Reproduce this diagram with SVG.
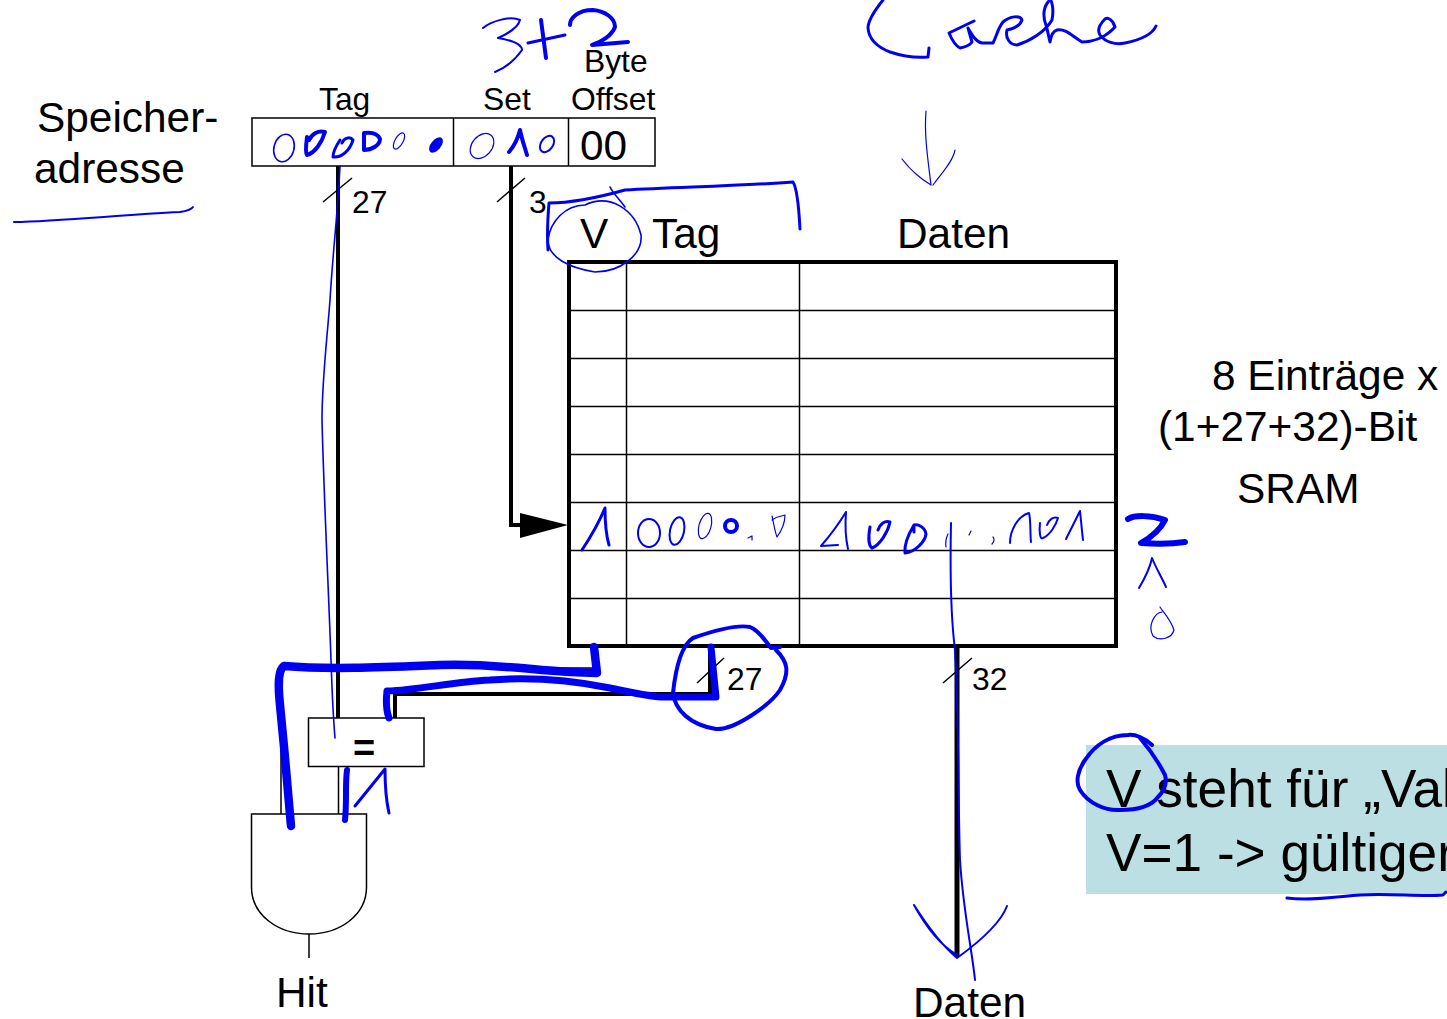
<svg xmlns="http://www.w3.org/2000/svg" width="1447" height="1019" viewBox="0 0 1447 1019">
<style>
text{font-family:"Liberation Sans",Arial,sans-serif;fill:#000}
.f42{font-size:42.400px}.f31{font-size:31.800px}.f52{font-size:53.200px}
.thin{fill:none;stroke:#000;stroke-width:1.5}
.box{fill:#fff;stroke:#000;stroke-width:1.5}
.thick{fill:none;stroke:#000;stroke-width:4}
.i{fill:none;stroke:#0000f0;stroke-linecap:round;stroke-linejoin:round}
.w1{stroke-width:1.2}.w15{stroke-width:1.6}.w2{stroke-width:2}.w3{stroke-width:3}.w4{stroke-width:4}.w6{stroke-width:6}.w7{stroke-width:7}.w8{stroke-width:8.500}
</style>
<rect width="1447" height="1019" fill="#fff"/>
<g id="info-box">
<rect x="1086" y="745" width="361" height="149" fill="#bbdfe3"/>
<text class="f52" x="1106" y="807">V steht für „Val</text>
<text class="f52" x="1106" y="871">V=1 -&gt; gültiger</text>
</g>
<g id="connectors">
<path class="thick" d="M338 166V718"/>
<path class="thick" d="M511 166V525H525"/>
<path d="M520 513L568 525L520 538Z" fill="#000"/>
<path class="thick" d="M710 646V694H395V718"/>
<path class="thick" d="M957 646V957" style="stroke-width:5"/>
<path class="thin" d="M593 646V668H281V814"/>
<path class="thin" d="M338.500 766V814"/>
<path class="thin" d="M309 934V958"/>
<path class="thin" d="M323 202L352 178M497 202L525 178M697 683L724 658M943 683L972 658"/>
</g>
<g id="address">
<rect class="box" x="252" y="118" width="403" height="48"/>
<path class="thin" d="M453.500 118V166M568.500 118V166"/>
<text class="f42" x="580" y="160">00</text>
<text class="f31" x="319" y="110">Tag</text>
<text class="f31" x="483" y="110">Set</text>
<text class="f31" x="584" y="72">Byte</text>
<text class="f31" x="571" y="110">Offset</text>
</g>
<g id="label-speicher">
<text class="f42" x="37" y="132">Speicher-</text>
<text class="f42" x="34" y="183">adresse</text>
</g>
<g id="bus-labels">
<text class="f31" x="352" y="213">27</text>
<text class="f31" x="529" y="213">3</text>
<text class="f31" x="727" y="690">27</text>
<text class="f31" x="972" y="690">32</text>
</g>
<g id="cache-table">
<rect x="569" y="262" width="547" height="384" fill="#fff" stroke="#000" stroke-width="4"/>
<path class="thin" d="M569 310.500H1116M569 358.500H1116M569 406.500H1116M569 454.500H1116M569 502.500H1116M569 550.500H1116M569 598.500H1116M626.500 262V646M799.500 262V646"/>
<text class="f42" x="580" y="248">V</text>
<text class="f42" x="652" y="248">Tag</text>
<text class="f42" x="897" y="248">Daten</text>
</g>
<g id="label-size">
<text class="f42" x="1212" y="390">8 Einträge x</text>
<text class="f42" x="1158" y="441">(1+27+32)-Bit</text>
<text class="f42" x="1237" y="503">SRAM</text>
</g>
<g id="comparator">
<rect class="box" x="308.500" y="718" width="115.500" height="48.500"/>
<text x="364" y="761" text-anchor="middle" font-size="38" font-weight="bold">=</text>
</g>
<g id="and-gate">
<path class="box" d="M251.500 814H366.500V887C366.500 915 340 934 309 934C278 934 251.500 915 251.500 887Z"/>
<text class="f42" x="276" y="1007">Hit</text>
</g>
<g id="label-daten">
<text class="f42" x="913" y="1017">Daten</text>
</g>
<g id="ink">
<path class="i w8" d="M291 826C288 790 284 745 280 705C278 685 278 670 284 666C330 670 390 667 440 665C490 663 530 670 570 672L597 673L594 647"/>
<path class="i w7" d="M389 718C386 710 386 700 387 691C420 690 450 682 490 680C530 677 570 680 610 688C630 692 650 697 665 697H716L711 647"/>
<path class="i w4" d="M780 647L771 648C765 640 758 630 750 627C735 624 710 632 693 638C682 645 676 665 673 693C675 710 690 725 716 729C735 730 770 705 780 690C790 672 788 662 776 650"/>
<path class="i w15" d="M340 166C338 210 333 250 330 300C327 340 322 380 322 420C324 500 329 600 331 660C332 690 333 715 335 738"/>
<path class="i w2" d="M951 523C950 570 950 610 955 650C959 720 958 800 960 860C963 910 972 950 975 980"/>
<path class="i w2" d="M914 905C930 930 945 948 957 958C975 945 1000 925 1007 906M914 905C925 925 940 945 957 955"/>
<path class="i w15" d="M610 187C612 192 620 200 625 207M585 205C610 193 635 210 641 235C643 255 620 272 595 272C570 268 548 258 548 240C550 222 565 205 585 205"/>
<path class="i w3" d="M548 250C547 235 548 215 549 203C575 203 600 197 625 190C680 187 740 186 793 182C797 188 799 210 800 229"/>
<path class="i w3" d="M883 0C875 10 868 20 868 28C869 40 877 47 890 52C905 57 918 58 928 57L929 48"/>
<path class="i w3" d="M974 21L949 33C952 40 956 46 960 48C965 47 970 45 972 42L968 28C972 35 976 42 982 43H993C997 35 998 28 1003 22C1010 16 1020 15 1022 20C1020 26 1012 29 1007 30C1005 38 1010 45 1017 45C1030 41 1045 32 1052 20C1054 10 1052 0 1050 0C1044 5 1042 15 1046 25C1048 32 1049 38 1050 42C1051 36 1053 31 1057 30C1065 28 1072 36 1082 42C1092 42 1105 38 1115 27C1113 20 1108 17 1105 19C1100 24 1097 30 1100 35C1105 42 1115 45 1125 43C1140 40 1152 35 1156 26"/>
<path class="i w1" d="M926 111C924 135 928 160 931 185M902 159C912 172 922 180 931 185C920 178 910 170 902 159M955 150C953 162 940 175 933 185"/>
<path class="i w2" d="M483 28C490 22 510 15 520 20C518 28 505 35 498 38C510 40 522 44 522 50C515 60 505 68 495 72"/>
<path class="i w4" d="M541 20L546 58"/>
<path class="i w3" d="M528 43L565 35"/>
<path class="i w4" d="M570 25C570 18 578 10 593 10C605 11 615 18 615 27C612 35 602 42 592 45L628 42"/>
<ellipse class="i w15" cx="284" cy="148" rx="10" ry="14" transform="rotate(15 284 148)"/>
<path class="i w4" d="M307 137C306 145 305 152 307 155C315 153 322 142 325 132C318 130 312 134 309 140"/>
<path class="i w3" d="M340 140C336 146 333 152 333 157C342 158 350 150 353 140C350 136 344 138 342 143"/>
<path class="i w4" d="M364 133V150C372 150 380 145 380 139C378 134 372 132 364 133"/>
<ellipse class="i w1" cx="399" cy="141" rx="4" ry="9" transform="rotate(30 399 141)"/>
<ellipse cx="436" cy="145" rx="5" ry="9" transform="rotate(40 436 145)" fill="#0000f0"/>
<ellipse class="i w1" cx="482" cy="146" rx="10" ry="14" transform="rotate(40 482 146)"/>
<path class="i w4" d="M509 152C515 145 518 138 520 130C522 140 525 148 527 155"/>
<ellipse class="i w2" cx="547" cy="144" rx="6" ry="9" transform="rotate(35 547 144)"/>
<path class="i w3" d="M582 550C592 535 600 520 605 508C605 520 606 535 609 545"/>
<ellipse class="i w2" cx="649" cy="533" rx="11" ry="14"/>
<ellipse class="i w2" cx="677" cy="531" rx="7" ry="14" transform="rotate(12 677 531)"/>
<ellipse class="i w1" cx="705" cy="526" rx="6" ry="13" transform="rotate(15 705 526)"/>
<ellipse class="i w4" cx="731" cy="526" rx="6" ry="6"/>
<path class="i w1" d="M748 538L752 536V540"/>
<path class="i w1" d="M772 516C774 525 775 532 777 537C782 530 785 522 785 515C780 516 775 518 772 520"/>
<path class="i w2" d="M846 512C838 525 828 538 821 546L838 545M846 512C845 525 846 540 848 549"/>
<path class="i w3" d="M870 527C868 538 869 546 872 548C880 545 888 532 890 522C885 520 880 524 878 530"/>
<path class="i w3" d="M914 525C908 535 904 545 905 553C915 552 925 542 926 534C925 527 918 524 914 525V532"/>
<path class="i w1" d="M946 547C945 540 947 536 948 534M969 535L971 531M992 544C995 541 994 538 993 537"/>
<path class="i w2" d="M1010 543C1010 530 1018 516 1029 513C1031 520 1030 535 1031 542"/>
<path class="i w2" d="M1040 523C1039 532 1040 540 1043 538C1050 535 1056 525 1058 518C1053 516 1049 520 1047 525"/>
<path class="i w2" d="M1066 539L1080 511C1081 520 1082 532 1083 540"/>
<path class="i w6" d="M1128 519C1135 515 1150 515 1165 520C1160 530 1150 538 1141 543C1155 544 1172 544 1185 542"/>
<path class="i w2" d="M1139 588C1145 578 1150 568 1152 558C1156 568 1162 578 1166 587"/>
<path class="i w1" d="M1160 607C1163 612 1170 618 1174 630C1172 638 1160 642 1153 636C1147 625 1155 613 1162 612"/>
<path class="i w6" d="M347 770C345 785 347 800 345 820"/>
<path class="i w3" d="M355 806L385 769C385 785 386 800 389 813"/>
<path class="i w2" d="M14 222C60 221 120 215 180 212C186 211 191 210 193 207"/>
<path class="i w4" d="M1152 745C1145 738 1135 734 1128 735C1110 735 1095 745 1085 760C1078 770 1075 782 1080 790C1088 803 1105 811 1120 810C1135 810 1150 808 1158 797C1165 790 1167 782 1165 775C1160 765 1152 752 1140 738"/>
<path class="i w3" d="M1287 898C1310 901 1335 897 1360 895C1390 893 1420 897 1443 895L1446 892"/>
</g>
</svg>
